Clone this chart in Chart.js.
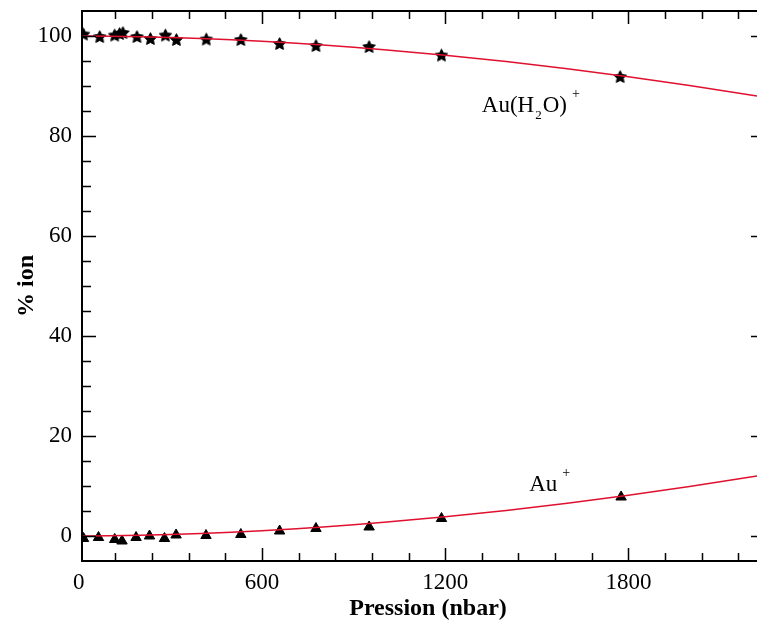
<!DOCTYPE html>
<html>
<head>
<meta charset="utf-8">
<script src="https://cdn.jsdelivr.net/npm/chart.js@4.4.0/dist/chart.umd.min.js"></script>
<style>
    html, body { margin: 0; padding: 0; background: #fff; overflow: hidden; }
</style>
</head>
<body>
<canvas id="myChart" width="757" height="627"></canvas>
<script>
// Au(H2O)+ measured points (stars)
let pressionH2O = [16, 69, 118, 134, 145, 191, 235, 284, 320, 418, 531, 658, 777, 951, 1188, 1773];
let ionH2O = [100.4, 99.9, 100.2, 100.5, 100.7, 99.9, 99.5, 100.2, 99.3, 99.4, 99.3, 98.5, 98.1, 97.9, 96.2, 91.9];

// Au+ measured points (triangles)
let pressionAu = [16, 65, 118, 142, 188, 232, 281, 319, 417, 531, 658, 777, 951, 1188, 1776];
let ionAu = [-0.5, -0.3, -0.7, -1.0, -0.3, 0.0, -0.5, 0.2, 0.1, 0.3, 1.0, 1.5, 1.8, 3.5, 7.8];

// fitted curves
let pressionFit = [0, 100, 200, 300, 400, 500, 600, 700, 800, 900, 1000, 1200, 1400, 1600, 1800, 2000, 2221];
let fitAu = [0, 0.04, 0.14, 0.30, 0.50, 0.76, 1.06, 1.42, 1.81, 2.25, 2.74, 3.84, 5.10, 6.54, 8.13, 9.88, 12.0];
let fitH2O = [100, 99.96, 99.86, 99.70, 99.50, 99.24, 98.94, 98.58, 98.19, 97.75, 97.26, 96.16, 94.90, 93.46, 91.87, 90.12, 88.0];

let xTicks = [0, 600, 1200, 1800];
let yTicks = [0, 20, 40, 60, 80, 100];

const rouge = "#e0102f";
const serif = "'Liberation Serif', 'Times New Roman', serif";

function toPoints(xs, ys) {
    return xs.map((x, i) => ({ x: x, y: ys[i] }));
}

function makeStar(r) {
    let c = document.createElement("canvas");
    let s = Math.ceil(r * 2) + 2;
    c.width = s;
    c.height = s;
    let g = c.getContext("2d");
    g.fillStyle = "#000";
    g.strokeStyle = "#000";
    g.lineWidth = 1;
    g.beginPath();
    for (let i = 0; i < 10; i++) {
        let rad = i % 2 ? r * 0.5 : r;
        let a = -Math.PI / 2 + i * Math.PI / 5;
        g.lineTo(s / 2 + rad * Math.cos(a), s / 2 + rad * Math.sin(a) + r * 0.1);
    }
    g.closePath();
    g.fill();
    g.stroke();
    return c;
}

// draws text with sub / superscript parts, parts = [[text, kind]]
function drawRich(ctx, parts, x, y) {
    parts.forEach(([t, kind]) => {
        if (kind == "n") {
            ctx.font = "23px " + serif;
            ctx.fillText(t, x, y);
            x += ctx.measureText(t).width;
        } else if (kind == "sub") {
            ctx.font = "13px " + serif;
            ctx.fillText(t, x + 1, y + 7);
            x += ctx.measureText(t).width + 2;
        } else {
            ctx.font = "14px " + serif;
            ctx.fillText(t, x + 5, y - 14);
            x += ctx.measureText(t).width + 5;
        }
    });
}

const cadre = {
    id: "cadre",
    afterDatasetsDraw(chart) {
        const { ctx, chartArea: a, scales: { x, y } } = chart;
        // the right axis sits just past the picture edge
        const droite = a.right + 8;
        ctx.save();
        ctx.strokeStyle = "#000";
        ctx.lineWidth = 2;
        ctx.beginPath();
        ctx.moveTo(droite, a.top);
        ctx.lineTo(a.left, a.top);
        ctx.lineTo(a.left, a.bottom);
        ctx.lineTo(droite, a.bottom);
        ctx.stroke();

        ctx.lineWidth = 1.5;
        ctx.beginPath();
        for (let v = 120; v < 2300; v += 120) {
            let len = v % 600 == 0 ? 13 : 8;
            let px = Math.round(x.getPixelForValue(v)) + 0.5;
            ctx.moveTo(px, a.bottom);
            ctx.lineTo(px, a.bottom - len);
            ctx.moveTo(px, a.top);
            ctx.lineTo(px, a.top + len);
        }
        for (let v = 0; v < y.max; v += 5) {
            let major = v % 20 == 0;
            let py = Math.round(y.getPixelForValue(v)) + 0.5;
            ctx.moveTo(a.left, py);
            ctx.lineTo(a.left + (major ? 14 : 9), py);
            ctx.moveTo(droite, py);
            ctx.lineTo(droite - (major ? 14 : 7), py);
        }
        ctx.stroke();
        ctx.restore();
    },
    afterDraw(chart) {
        const { ctx, scales: { x, y } } = chart;
        ctx.save();
        ctx.fillStyle = "#000";
        ctx.textBaseline = "alphabetic";
        ctx.textAlign = "left";
        drawRich(ctx, [["Au(H", "n"], ["2", "sub"], ["O)", "n"], ["+", "sup"]],
            x.getPixelForValue(1320), y.getPixelForValue(84.8));
        drawRich(ctx, [["Au", "n"], ["+", "sup"]],
            x.getPixelForValue(1475), y.getPixelForValue(9.1));

        ctx.font = "bold 24px " + serif;
        ctx.textAlign = "center";
        ctx.fillText("Pression (nbar)", 428, 615);
        ctx.translate(33, 286);
        ctx.rotate(-Math.PI / 2);
        ctx.fillText("% ion", 0, 0);
        ctx.restore();
    }
};

const config = () => {
    new Chart(document.getElementById("myChart"), {
        type: "scatter",
        data: {
            datasets: [
                {
                    type: "line",
                    data: toPoints(pressionFit, fitH2O),
                    borderColor: rouge,
                    borderWidth: 1.5,
                    pointRadius: 0,
                    cubicInterpolationMode: "monotone",
                    order: 0
                },
                {
                    type: "line",
                    data: toPoints(pressionFit, fitAu),
                    borderColor: rouge,
                    borderWidth: 1.5,
                    pointRadius: 0,
                    cubicInterpolationMode: "monotone",
                    order: 0
                },
                {
                    data: toPoints(pressionH2O, ionH2O),
                    pointStyle: makeStar(6.5),
                    order: 1
                },
                {
                    data: toPoints(pressionAu, ionAu),
                    pointStyle: "triangle",
                    pointRadius: 6,
                    backgroundColor: "#000",
                    borderColor: "#000",
                    borderWidth: 1,
                    order: 1
                }
            ]
        },
        options: {
            responsive: false,
            animation: false,
            layout: { autoPadding: false, padding: { top: 11, right: 0, left: 0, bottom: 0 } },
            plugins: { legend: { display: false }, tooltip: { enabled: false } },
            scales: {
                x: {
                    type: "linear",
                    min: 11,
                    max: 2221,
                    grid: { display: false, drawTicks: false },
                    border: { display: false },
                    ticks: {
                        color: "#000", font: { family: serif, size: 23 }, padding: 8,
                        autoSkip: false, maxRotation: 0, callback: (v) => String(v)
                    },
                    afterBuildTicks: (s) => { s.ticks = xTicks.map((v) => ({ value: v })); },
                    afterFit: (s) => { s.height = 66; s.paddingLeft = 0; s.paddingRight = 0; }
                },
                y: {
                    type: "linear",
                    min: -5,
                    max: 105,
                    grid: { display: false, drawTicks: false },
                    border: { display: false },
                    ticks: {
                        color: "#000", font: { family: serif, size: 23 }, padding: 10,
                        autoSkip: false, callback: (v) => String(v)
                    },
                    afterBuildTicks: (s) => { s.ticks = yTicks.map((v) => ({ value: v })); },
                    afterFit: (s) => { s.width = 82; s.paddingTop = 0; s.paddingBottom = 0; }
                }
            }
        },
        plugins: [cadre]
    });
};

config();
</script>
</body>
</html>
